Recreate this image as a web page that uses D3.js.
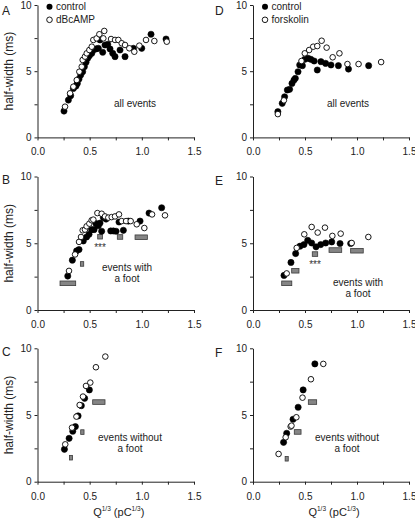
<!DOCTYPE html>
<html><head><meta charset="utf-8">
<script src="https://cdn.jsdelivr.net/npm/d3@7"></script>
<style>
html,body{margin:0;padding:0;background:#fff;}
svg{display:block;font-family:"Liberation Sans",Arial,sans-serif;}
</style></head>
<body>
<svg id="c" width="415" height="520"></svg>
<script>
// ---------- DATA ----------
// Panel A: all events, control vs dBcAMP  [Q^(1/3), half-width]
const aControl = [[0.254,1.99],[0.296,2.82],[0.318,3.15],[0.344,3.70],[0.369,3.88],[0.382,4.08],[0.398,4.41],[0.414,4.71],[0.433,4.96],[0.449,5.34],[0.465,5.67],[0.481,5.97],[0.497,6.17],[0.520,6.35],[0.535,6.60],[0.561,6.68],[0.583,6.73],[0.599,7.36],[0.625,6.43],[0.647,6.98],[0.673,7.03],[0.695,6.68],[0.721,6.35],[0.743,6.10],[0.791,6.60],[0.839,6.10],[0.919,6.73],[0.999,6.73],[1.088,7.79],[1.232,7.43]];
const aTreated = [[0.264,2.32],[0.312,3.33],[0.344,3.83],[0.376,4.33],[0.401,4.96],[0.424,5.34],[0.433,5.85],[0.455,6.10],[0.472,6.35],[0.497,6.60],[0.520,6.85],[0.535,7.36],[0.567,7.48],[0.593,7.79],[0.640,8.04],[0.631,7.48],[0.705,7.43],[0.743,7.36],[0.775,7.36],[0.807,7.11],[0.839,6.98],[0.880,6.73],[0.928,6.47],[0.976,6.93],[1.040,7.36],[1.120,7.28],[1.239,7.23]];
// Panel B: events with a foot, control vs dBcAMP
const bControl = [[0.290,2.54],[0.334,3.73],[0.375,4.43],[0.398,4.53],[0.439,5.17],[0.471,5.47],[0.494,5.67],[0.519,6.02],[0.542,6.02],[0.561,6.47],[0.583,6.32],[0.599,6.51],[0.615,5.90],[0.631,6.92],[0.657,6.81],[0.702,5.92],[0.727,5.92],[0.753,5.90],[0.781,6.59],[0.823,5.97],[0.871,6.66],[0.983,6.66],[1.069,7.26],[1.190,7.66]];
const bTreated = [[0.302,2.93],[0.360,4.16],[0.398,5.10],[0.417,5.47],[0.433,5.97],[0.455,6.02],[0.471,6.27],[0.497,6.47],[0.519,6.72],[0.535,6.77],[0.574,7.26],[0.615,7.21],[0.647,7.01],[0.679,6.92],[0.711,6.96],[0.743,7.01],[0.781,7.16],[0.807,6.66],[0.849,6.66],[0.893,6.66],[0.951,6.42],[1.024,6.14],[1.098,7.16],[1.222,7.09]];
// Panel B bars: [xLow, xHigh, half-width]
const bBars = [[0.216,0.366,2.00],[0.411,0.443,3.45],[0.577,0.622,5.49],[0.765,0.817,5.47],[0.935,1.053,5.45]];
// Panel C: events without a foot, control vs dBcAMP
const cControl = [[0.258,2.43],[0.303,3.25],[0.338,3.78],[0.363,4.13],[0.389,4.93],[0.420,5.70],[0.452,6.25],[0.497,6.88]];
const cTreated = [[0.266,2.80],[0.331,4.05],[0.373,4.88],[0.404,5.75],[0.436,6.38],[0.465,7.18],[0.506,7.43],[0.560,8.58],[0.650,9.38]];
const cBars = [[0.306,0.336,1.80],[0.414,0.446,3.72],[0.529,0.647,5.97]];
// Panel D: all events, control vs forskolin
const dControl = [[0.239,1.94],[0.281,2.57],[0.304,3.07],[0.330,3.58],[0.352,3.63],[0.375,4.08],[0.394,4.33],[0.407,4.46],[0.433,4.96],[0.449,5.47],[0.475,5.42],[0.498,5.90],[0.530,5.97],[0.556,5.90],[0.588,5.77],[0.618,5.09],[0.653,5.72],[0.698,5.59],[0.750,5.47],[0.821,5.42],[0.918,5.16],[1.112,5.42]];
const dTreated = [[0.239,1.76],[0.297,2.80],[0.466,5.77],[0.498,6.35],[0.540,6.60],[0.579,6.85],[0.618,6.90],[0.660,7.30],[0.708,6.78],[0.766,6.05],[0.831,6.35],[0.908,5.54],[1.015,5.54],[1.232,5.69]];
// Panel E: events with a foot, control vs forskolin
const eControl = [[0.298,2.59],[0.365,3.56],[0.410,4.23],[0.452,4.78],[0.490,4.90],[0.526,5.22],[0.564,5.02],[0.606,4.73],[0.651,4.90],[0.699,5.02],[0.757,5.10],[0.837,4.98],[0.939,4.98]];
const eTreated = [[0.324,2.74],[0.420,4.65],[0.493,5.67],[0.564,6.22],[0.622,5.80],[0.692,6.17],[0.763,5.55],[0.843,5.72],[0.949,5.02],[1.109,5.47]];
const eBars = [[0.276,0.373,2.00],[0.372,0.442,2.94],[0.570,0.622,4.19],[0.731,0.853,4.49],[0.939,1.060,4.44]];
// Panel F: events without a foot, control vs forskolin
const fControl = [[0.294,2.95],[0.324,3.63],[0.385,4.68],[0.434,5.58],[0.482,6.88],[0.595,8.83]];
const fTreated = [[0.246,2.08],[0.314,3.33],[0.362,4.13],[0.370,4.20],[0.417,4.83],[0.476,6.30],[0.557,7.68],[0.676,8.83]];
const fBars = [[0.309,0.339,1.72],[0.397,0.462,3.73],[0.532,0.612,5.97]];

const xTicks = [0,0.25,0.5,0.75,1.0,1.25,1.5];
const yTicks = [0,2.5,5,7.5,10];
const xDomain = [0,1.5], yDomain = [0,10];

// ---------- LAYOUT ----------
const svg = d3.select("#c");
const colL = [37.5,194], colR = [253,409];
const rowA = [137.4,5], rowB = [310,176.5], rowC = [481.7,348.3];

const panels = [
  {id:"A", xr:colL, yr:rowA, ctrl:aControl, trt:aTreated, bars:null, note:["all events"], nx:135, ny:103, legend:"dBcAMP", ylab:true, xlab:false, letter:[2,15]},
  {id:"B", xr:colL, yr:rowB, ctrl:bControl, trt:bTreated, bars:bBars, star:2, note:["events with","a foot"], nx:127, ny:267, ylab:true, xlab:false, letter:[2,183.5]},
  {id:"C", xr:colL, yr:rowC, ctrl:cControl, trt:cTreated, bars:cBars, note:["events without","a foot"], nx:130, ny:437, ylab:true, xlab:true, letter:[2,355.5]},
  {id:"D", xr:colR, yr:rowA, ctrl:dControl, trt:dTreated, bars:null, note:["all events"], nx:348, ny:103, legend:"forskolin", ylab:false, xlab:false, letter:[215,14.5]},
  {id:"E", xr:colR, yr:rowB, ctrl:eControl, trt:eTreated, bars:eBars, star:2, note:["events with","a foot"], nx:358, ny:282, ylab:false, xlab:false, letter:[215,184.5]},
  {id:"F", xr:colR, yr:rowC, ctrl:fControl, trt:fTreated, bars:fBars, note:["events without","a foot"], nx:347, ny:437.5, ylab:false, xlab:true, letter:[215,356.5]}
];

const ink = "#222";
panels.forEach(p => {
  const x = d3.scaleLinear().domain(xDomain).range(p.xr);
  const y = d3.scaleLinear().domain(yDomain).range(p.yr);
  const g = svg.append("g");

  // axes
  const ax = g.append("g").attr("transform",`translate(0,${p.yr[0]})`)
    .call(d3.axisBottom(x).tickValues(xTicks).tickSize(3).tickSizeOuter(0).tickPadding(8)
      .tickFormat(d => (Math.abs(d*2 - Math.round(d*2))<1e-9) ? d3.format(".1f")(d) : ""));
  const ay = g.append("g").attr("transform",`translate(${p.xr[0]},0)`)
    .call(d3.axisLeft(y).tickValues(yTicks).tickSize(3).tickSizeOuter(0).tickPadding(3)
      .tickFormat(d => Number.isInteger(d) ? d : ""));
  [ax,ay].forEach(a => {
    a.selectAll("path,line").attr("stroke",ink).attr("stroke-width",1);
    a.selectAll("text").attr("fill",ink).attr("font-size",10).attr("font-family","Liberation Sans, Arial, sans-serif");
  });

  // bars
  if (p.bars) {
    g.selectAll("rect.bar").data(p.bars).enter().append("rect")
      .attr("x", d => x(d[0])).attr("width", d => x(d[1]) - x(d[0]))
      .attr("y", d => y(d[2]) - 2.3).attr("height", 4.6)
      .attr("fill","#858585").attr("stroke","#3a3a3a").attr("stroke-width",0.8);
    if (p.star !== undefined) {
      const b = p.bars[p.star];
      g.append("text").attr("x", x((b[0]+b[1])/2)).attr("y", y(b[2]) + 14)
        .attr("text-anchor","middle").attr("font-size",10).attr("fill","#333").text("***");
    }
  }

  // points
  g.selectAll("circle.c").data(p.ctrl).enter().append("circle")
    .attr("cx", d => x(d[0])).attr("cy", d => y(d[1])).attr("r",3.1)
    .attr("fill","#000").attr("stroke","#000").attr("stroke-width",0.6);
  g.selectAll("circle.t").data(p.trt).enter().append("circle")
    .attr("cx", d => x(d[0])).attr("cy", d => y(d[1])).attr("r",2.8)
    .attr("fill","#fff").attr("stroke","#000").attr("stroke-width",0.9);

  // note
  const nt = g.append("text").attr("text-anchor","middle").attr("font-size",10).attr("fill",ink);
  p.note.forEach((s,i) => nt.append("tspan").attr("x",p.nx).attr("y",p.ny + 3.5 + i*11).text(s));

  // letter
  g.append("text").attr("x",p.letter[0]).attr("y",p.letter[1]).attr("font-size",12).attr("fill",ink).text(p.id);

  // legend
  if (p.legend) {
    const lx = p.xr[0] + 12;
    g.append("circle").attr("cx",lx).attr("cy",6.8).attr("r",3).attr("fill","#000");
    g.append("text").attr("x",lx+6.5).attr("y",10.3).attr("font-size",10).attr("fill",ink).text("control");
    g.append("circle").attr("cx",lx).attr("cy",19.8).attr("r",2.8).attr("fill","#fff").attr("stroke","#000").attr("stroke-width",0.9);
    g.append("text").attr("x",lx+6.5).attr("y",23.3).attr("font-size",10).attr("fill",ink).text(p.legend);
  }

  // y label
  if (p.ylab) {
    const cy = (p.yr[0]+p.yr[1])/2;
    g.append("text").attr("transform",`translate(13,${cy}) rotate(-90)`).attr("text-anchor","middle")
      .attr("font-size",12).attr("fill",ink).text("half-width (ms)");
  }
  // x label
  if (p.xlab) {
    const cx = (p.xr[0]+p.xr[1])/2 + 3;
    const t = g.append("text").attr("x",cx).attr("y",515.5).attr("text-anchor","middle").attr("font-size",11).attr("fill",ink);
    t.append("tspan").text("Q");
    t.append("tspan").attr("font-size",6.5).attr("dy",-4.5).text("1/3");
    t.append("tspan").attr("dy",4.5).text(" (pC");
    t.append("tspan").attr("font-size",6.5).attr("dy",-4.5).text("1/3");
    t.append("tspan").attr("dy",4.5).text(")");
  }
});
</script>
</body></html>
